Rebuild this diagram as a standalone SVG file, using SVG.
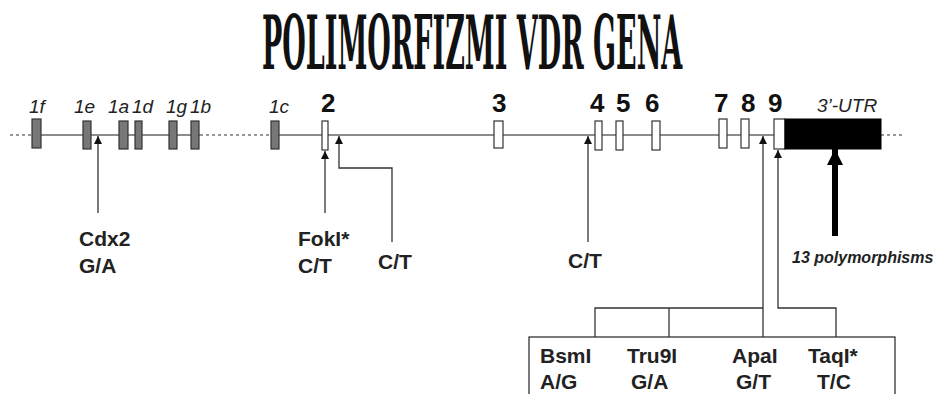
<svg xmlns="http://www.w3.org/2000/svg" width="938" height="394" viewBox="0 0 938 394">
<style>
.title{font-family:"DejaVu Serif","Liberation Serif",serif;font-weight:bold;font-size:74px;fill:#111}
.ex1{font-family:"Liberation Sans",Arial,sans-serif;font-style:italic;font-size:19px;fill:#222}
.num{font-family:"Liberation Sans",Arial,sans-serif;font-weight:bold;font-size:26px;fill:#111}
.lab{font-family:"Liberation Sans",Arial,sans-serif;font-weight:bold;font-size:21px;fill:#222}
.poly{font-family:"Liberation Sans",Arial,sans-serif;font-weight:bold;font-style:italic;font-size:16px;fill:#222}
.gene{stroke:#666;stroke-width:1.5;fill:none}
.dot{stroke:#777;stroke-width:1.5;stroke-dasharray:3 3;fill:none}
.exg{fill:#777;stroke:#333;stroke-width:1.2}
.exw{fill:#fff;stroke:#333;stroke-width:1.2}
.conn{stroke:#333;stroke-width:1.3;fill:none}
</style>
<defs>
<marker id="ah" viewBox="0 0 10 10" refX="10" refY="5" markerWidth="8" markerHeight="8" markerUnits="userSpaceOnUse" orient="auto">
<path d="M0 0 L10 5 L0 10 Z" fill="#111"/>
</marker>
<marker id="ahBig" viewBox="0 0 10 10" refX="10" refY="5" markerWidth="16" markerHeight="18" markerUnits="userSpaceOnUse" orient="auto">
<path d="M0 0 L10 5 L0 10 Z" fill="#000"/>
</marker>
</defs>
<g id="title" transform="translate(262,68.5) scale(0.369,1)">
<text class="title" x="0" y="0" textLength="1139" lengthAdjust="spacingAndGlyphs">POLIMORFIZMI VDR GENA</text>
</g>
<g id="gene-line">
<path class="dot" d="M10 135 H32"/>
<path class="gene" d="M32 135 H200"/>
<path class="dot" d="M200 135 H271"/>
<path class="gene" d="M279 135 H774"/>
<path class="dot" d="M881 135 H905"/>
</g>
<g id="exon-1f"><rect class="exg" x="32" y="119" width="9" height="29"/><text class="ex1" x="29" y="113">1f</text></g>
<g id="exon-1e"><rect class="exg" x="83" y="121" width="8" height="28"/><text class="ex1" x="74" y="113">1e</text></g>
<g id="exon-1a"><rect class="exg" x="119" y="121" width="9" height="28"/><text class="ex1" x="108" y="113">1a</text></g>
<g id="exon-1d"><rect class="exg" x="135" y="121" width="7" height="28"/><text class="ex1" x="132" y="113">1d</text></g>
<g id="exon-1g"><rect class="exg" x="169" y="121" width="8" height="28"/><text class="ex1" x="166" y="113">1g</text></g>
<g id="exon-1b"><rect class="exg" x="191" y="121" width="8" height="28"/><text class="ex1" x="190" y="113">1b</text></g>
<g id="exon-1c"><rect class="exg" x="271" y="121" width="8" height="28"/><text class="ex1" x="269" y="113">1c</text></g>
<g id="exon-2"><rect class="exw" x="322" y="121" width="6" height="29"/><text class="num" x="321" y="112">2</text></g>
<g id="exon-3"><rect class="exw" x="494" y="121" width="9" height="27"/><text class="num" x="492" y="112">3</text></g>
<g id="exon-4"><rect class="exw" x="595" y="121" width="7" height="29"/><text class="num" x="590" y="112">4</text></g>
<g id="exon-5"><rect class="exw" x="616" y="121" width="7" height="29"/><text class="num" x="616" y="112">5</text></g>
<g id="exon-6"><rect class="exw" x="652" y="121" width="8" height="29"/><text class="num" x="645" y="112">6</text></g>
<g id="exon-7"><rect class="exw" x="719" y="119" width="8" height="29"/><text class="num" x="714" y="112">7</text></g>
<g id="exon-8"><rect class="exw" x="741" y="119" width="8" height="29"/><text class="num" x="741" y="112">8</text></g>
<g id="exon-9"><rect class="exw" x="774" y="119" width="11" height="30"/><text class="num" x="768" y="112">9</text></g>
<g id="utr-3"><rect x="785" y="119" width="96" height="30" fill="#000" stroke="#000" stroke-width="1"/><text class="ex1" x="817" y="112">3’-UTR</text></g>
<g id="connectors">
<path class="conn" d="M98 213 V136" marker-end="url(#ah)"/>
<path class="conn" d="M325 213 V151" marker-end="url(#ah)"/>
<path class="conn" d="M392 242 V168 H339 V136" marker-end="url(#ah)"/>
<path class="conn" d="M588 242 V136" marker-end="url(#ah)"/>
<path class="conn" d="M763 337 V136" marker-end="url(#ah)"/>
<path class="conn" d="M836 337 V308 H778 V150" marker-end="url(#ah)"/>
<path class="conn" d="M595 337 V308 H763"/>
<path class="conn" d="M669 308 V337"/>
<path d="M835 236 V149" stroke="#000" stroke-width="6" fill="none" marker-end="url(#ahBig)"/>
</g>
<g id="snp-cdx2"><text class="lab" x="79" y="246">Cdx2</text><text class="lab" x="79" y="273">G/A</text></g>
<g id="snp-foki"><text class="lab" x="298" y="246">FokI*</text><text class="lab" x="298" y="273">C/T</text></g>
<g id="snp-ct2"><text class="lab" x="378" y="269">C/T</text></g>
<g id="snp-ct4"><text class="lab" x="568" y="268">C/T</text></g>
<g id="snp-utr"><text class="poly" x="792" y="263">13 polymorphisms</text></g>
<g id="snp-box">
<rect x="529" y="337" width="366" height="70" fill="none" stroke="#333" stroke-width="1.3"/>
<text class="lab" x="540" y="363">BsmI</text><text class="lab" x="540" y="389">A/G</text>
<text class="lab" x="627" y="363">Tru9I</text><text class="lab" x="631" y="389">G/A</text>
<text class="lab" x="732" y="363">ApaI</text><text class="lab" x="736" y="389">G/T</text>
<text class="lab" x="808" y="363">TaqI*</text><text class="lab" x="817" y="389">T/C</text>
</g>
</svg>
